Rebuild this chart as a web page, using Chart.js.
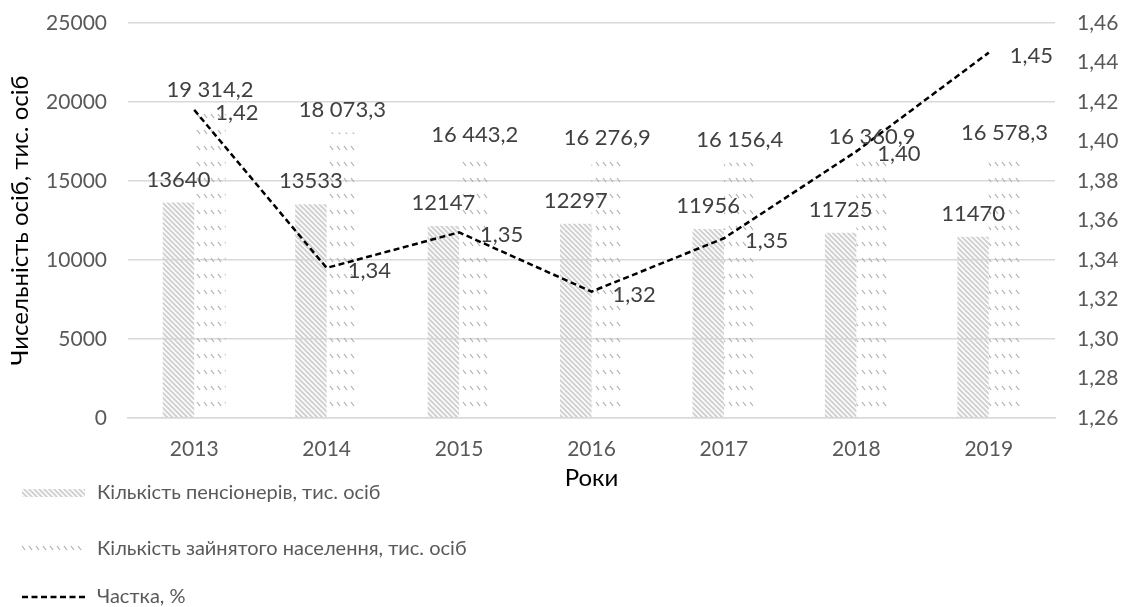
<!DOCTYPE html>
<html>
<head>
<meta charset="utf-8">
<script src="https://cdn.jsdelivr.net/npm/chart.js@4.4.1/dist/chart.umd.min.js"></script>
<style>
  html, body { margin: 0; padding: 0; background: #fff; }
  #wrap { width: 1122px; height: 607px; }
</style>
</head>
<body>
<div id="wrap"><canvas id="chart" width="1122" height="607"></canvas></div>
<script>
// дані з діаграми
const years = ['2013', '2014', '2015', '2016', '2017', '2018', '2019'];
const pensioners = [13640, 13533, 12147, 12297, 11956, 11725, 11470];
const employed = [19314.2, 18073.3, 16443.2, 16276.9, 16156.4, 16360.9, 16578.3];
const share = [1.416, 1.336, 1.354, 1.324, 1.351, 1.395, 1.445];
const seriesNames = [
  'Кількість пенсіонерів, тис. осіб',
  'Кількість зайнятого населення, тис. осіб',
  'Частка, %'
];

const FONT = 'Lato, "Open Sans", sans-serif';

// штриховки для стовпців
function hatch() {
  const c = document.createElement('canvas');
  c.width = 5; c.height = 5;
  const g = c.getContext('2d');
  g.strokeStyle = '#d2d2d2';
  g.lineWidth = 2;
  g.beginPath();
  g.moveTo(-1, -1); g.lineTo(6, 6);
  g.moveTo(-1, 4); g.lineTo(1, 6);
  g.moveTo(4, -1); g.lineTo(6, 1);
  g.stroke();
  return g.createPattern(c, 'repeat');
}

function dashes() {
  const c = document.createElement('canvas');
  c.width = 7; c.height = 16;
  const g = c.getContext('2d');
  g.strokeStyle = '#b0b0b0';
  g.lineWidth = 1.2;
  g.beginPath();
  g.moveTo(1, 2); g.lineTo(4, 6);
  g.stroke();
  return g.createPattern(c, 'repeat');
}

const ctx = document.getElementById('chart').getContext('2d');
const hatchFill = hatch();
const dashFill = dashes();

function fmtThousands(v) {
  const parts = v.toFixed(1).split('.');
  const int = parts[0].replace(/\B(?=(\d{3})+(?!\d))/g, '\u202F');
  return int + ',' + parts[1];
}

// без додаткових відступів від підписів осей
function noOverhang(scale) {
  scale.paddingTop = 0;
  scale.paddingBottom = 0;
  scale.paddingLeft = 0;
  scale.paddingRight = 0;
}

// підписи даних
const labelsPlugin = {
  id: 'valueLabels',
  afterDatasetsDraw(chart) {
    const c = chart.ctx;
    c.save();
    c.font = '22px ' + FONT;
    c.fillStyle = '#404040';
    c.textBaseline = 'middle';
    chart.data.datasets.forEach((ds, i) => {
      const meta = chart.getDatasetMeta(i);
      meta.data.forEach((el, j) => {
        const v = ds.data[j];
        if (ds.type === 'line') {
          c.textAlign = 'left';
          c.fillText(v.toFixed(2).replace('.', ','), el.x + 21, el.y + 3);
        } else {
          c.textAlign = 'center';
          const txt = i === 0 ? String(v) : fmtThousands(v);
          c.fillText(txt, el.x, el.y - 23);
        }
      });
    });
    c.restore();
  }
};

// легенда стовпчиком під діаграмою
const legendPlugin = {
  id: 'stackLegend',
  afterDraw(chart) {
    const c = chart.ctx;
    const base = chart.chartArea.bottom;
    const rows = [base + 75, base + 131, base + 179];
    c.save();
    c.font = '20px ' + FONT;
    c.textBaseline = 'middle';
    c.textAlign = 'left';
    chart.data.datasets.forEach((ds, i) => {
      const y = rows[i];
      if (ds.type === 'line') {
        c.strokeStyle = '#000';
        c.lineWidth = 2.5;
        c.setLineDash([6, 3.5]);
        c.beginPath();
        c.moveTo(22, y);
        c.lineTo(88, y);
        c.stroke();
        c.setLineDash([]);
      } else {
        c.fillStyle = ds.backgroundColor;
        c.fillRect(22, y - 4, 63, 8);
      }
      c.fillStyle = '#595959';
      c.fillText(ds.label, 97, y);
    });
    c.restore();
  }
};

new Chart(ctx, {
  data: {
    labels: years,
    datasets: [
      {
        type: 'bar',
        label: seriesNames[0],
        data: pensioners,
        backgroundColor: hatchFill,
        borderWidth: 0,
        yAxisID: 'y',
        order: 2,
      },
      {
        type: 'bar',
        label: seriesNames[1],
        data: employed,
        backgroundColor: dashFill,
        borderWidth: 0,
        yAxisID: 'y',
        order: 2,
      },
      {
        type: 'line',
        label: seriesNames[2],
        data: share,
        borderColor: '#000',
        borderWidth: 2.5,
        borderDash: [6, 3.5],
        pointRadius: 0,
        fill: false,
        tension: 0,
        yAxisID: 'y1',
        order: 1,
      }
    ]
  },
  options: {
    responsive: false,
    animation: false,
    datasets: {
      bar: { categoryPercentage: 0.475, barPercentage: 1 }
    },
    layout: { padding: { top: 23, bottom: 114, left: 0, right: 0 } },
    plugins: {
      legend: { display: false },
      tooltip: { enabled: false },
    },
    scales: {
      x: {
        grid: { display: false, drawTicks: false },
        border: { color: '#d9d9d9', width: 1.5 },
        ticks: { color: '#595959', font: { family: FONT, size: 21 }, padding: 19 },
        title: {
          display: true,
          text: 'Роки',
          color: '#000',
          font: { family: FONT, size: 24 },
          padding: { top: 0, bottom: 0 }
        },
        afterFit(scale) { scale.height = 75; noOverhang(scale); }
      },
      y: {
        position: 'left',
        min: 0,
        max: 25000,
        ticks: {
          stepSize: 5000,
          color: '#595959',
          font: { family: FONT, size: 21 },
          padding: 21,
          callback: (v) => String(v)
        },
        grid: { color: '#d9d9d9', lineWidth: 1.5, drawTicks: false },
        border: { display: false },
        title: {
          display: true,
          text: 'Чисельність осіб, тис. осіб',
          color: '#000',
          font: { family: FONT, size: 24 },
          padding: { top: 6, bottom: 0 }
        },
        afterFit(scale) { scale.width = 128; noOverhang(scale); }
      },
      y1: {
        position: 'right',
        min: 1.26,
        max: 1.46,
        ticks: {
          stepSize: 0.02,
          color: '#595959',
          font: { family: FONT, size: 21 },
          padding: 22,
          callback: (v) => v.toFixed(2).replace('.', ',')
        },
        grid: { display: false, drawTicks: false },
        border: { display: false },
        afterFit(scale) { scale.width = 67; noOverhang(scale); }
      }
    }
  },
  plugins: [labelsPlugin, legendPlugin]
});
</script>
</body>
</html>
